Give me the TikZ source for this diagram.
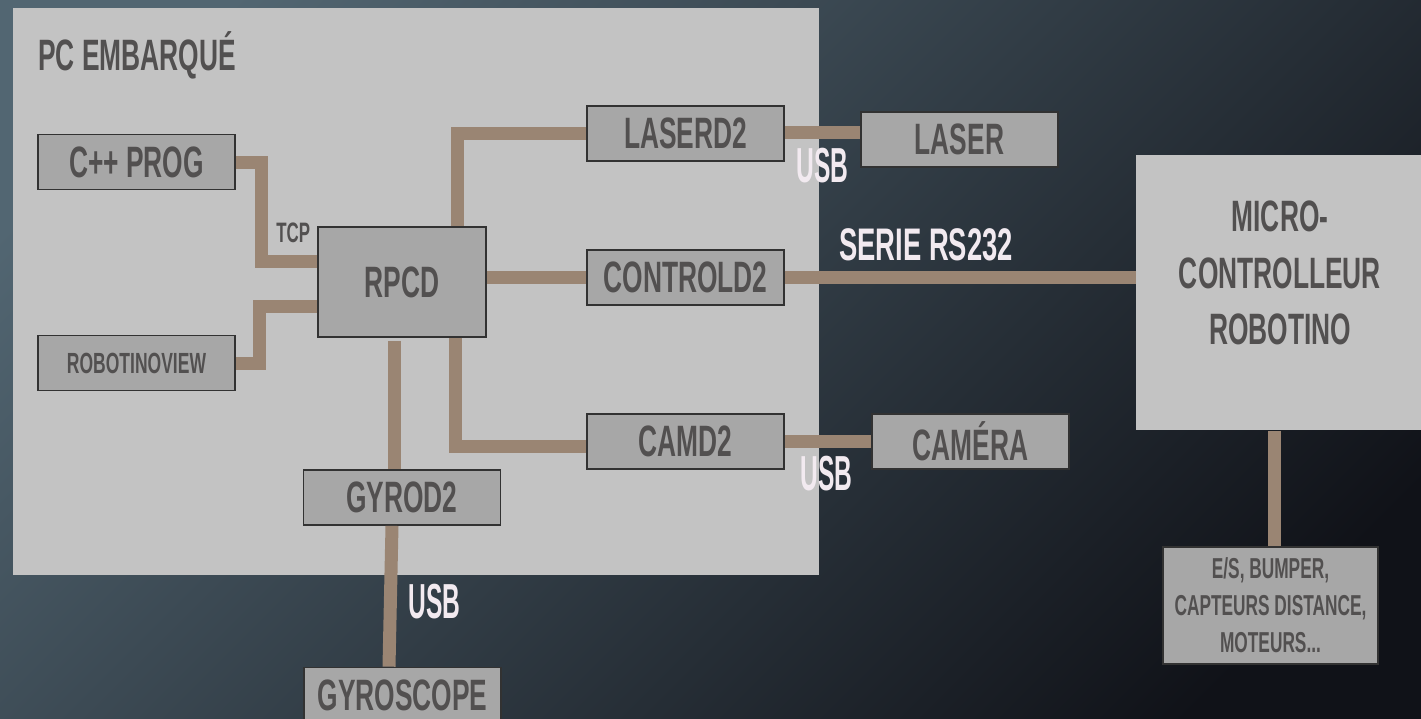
\documentclass[tikz,border=0pt]{standalone}
\usepackage{fontspec}
\setmainfont{Liberation Sans}[FakeStretch=0.6]
\newfontfamily\usbfont{Liberation Sans}[FakeStretch=0.5]
\usepackage{tikz}
\usetikzlibrary{positioning, calc}
\definecolor{bgtop}{RGB}{82,102,114}
\definecolor{bgbot}{RGB}{16,18,24}
\definecolor{panelgrey}{RGB}{195,195,195}
\definecolor{boxgrey}{RGB}{167,167,167}
\definecolor{boxframe}{RGB}{50,50,50}
\definecolor{boxtext}{RGB}{82,80,80}
\definecolor{linkbrown}{RGB}{154,133,115}
\definecolor{lbltext}{RGB}{242,234,240}
\tikzset{
  panel/.style={rectangle, fill=panelgrey, inner sep=0pt, anchor=north west},
  box/.style={rectangle, draw=boxframe, fill=boxgrey,
    minimum width=3.94cm, minimum height=1.1cm, inner sep=0pt,
    line width=1pt, text=boxtext, font=\fontsize{25}{30}\selectfont\bfseries},
  smallbox/.style={box, font=\fontsize{16.6}{20}\selectfont\bfseries},
  notebox/.style={box, align=center, minimum width=4.3cm, minimum height=2.34cm,
    font=\fontsize{16.4}{21}\selectfont\bfseries},
  title/.style={inner sep=0pt, anchor=base west, text=boxtext,
    font=\fontsize{25}{30}\selectfont\bfseries},
  bigtext/.style={inner sep=0pt, align=center, text=boxtext,
    font=\fontsize{25}{32}\selectfont\bfseries},
  tcplbl/.style={inner sep=0pt, anchor=base west, text=boxtext,
    font=\fontsize{16}{20}\selectfont\bfseries},
  usblbl/.style={inner sep=0pt, anchor=base west, text=lbltext,
    font=\usbfont\fontsize{28}{30}\selectfont\bfseries},
  seriallbl/.style={inner sep=0pt, anchor=base west, text=lbltext,
    font=\fontsize{26}{30}\selectfont\bfseries},
  link/.style={line width=0.26cm, color=linkbrown}
}

\begin{document}
\begin{tikzpicture}[x=0.02cm, y=-0.02cm]
  \useasboundingbox (0,0) rectangle (1421,718);
  % background
  \shade[top color=bgtop, bottom color=bgbot, shading angle=45] (-60,-60) rectangle (1481,778);

  % panels
  \node[panel, minimum width=16.12cm, minimum height=11.34cm] (pc) at (13,8) {};
  \node[panel, minimum width=5.8cm, minimum height=5.5cm] (micro) at (1136,155) {};
  \node[title] (pctitle) at (38,70) {PC EMBARQUÉ};
  \node[bigtext] (microtxt) at (1280,273) {MICRO-\\CONTROLLEUR\\ROBOTINO};

  % boxes
  \node[box] (cpp) at (136.5,162) {C++ PROG};
  \node[smallbox] (rview) at (136.5,363) {ROBOTINOVIEW};
  \node[box, minimum width=3.36cm, minimum height=2.2cm] (rpcd) at (402,282) {RPCD};
  \node[box] (laserd) at (685.5,133.5) {LASERD2};
  \node[box] (controld) at (685.5,277.5) {CONTROLD2};
  \node[box] (camd) at (685.5,441.5) {CAMD2};
  \node[box] (gyrod) at (402,497.5) {GYROD2};
  \node[box] (gyro) at (402.5,695) {GYROSCOPE};
  \node[box] (laser) at (959.5,139.5) {LASER};
  \node[box] (camera) at (970.5,441.5) {CAMÉRA};
  \node[notebox] (es) at (1270.5,605.5) {E/S, BUMPER,\\CAPTEURS DISTANCE,\\MOTEURS...};

  % links
  \draw[link] (cpp.east) -- ++(26,0) |- (rpcd.west |- 0,261);
  \draw[link] (rview.east) -- ++(24,0) |- (rpcd.west |- 0,306);
  \draw[link] (rpcd.north -| 457,0) |- (laserd.west);
  \draw[link] (rpcd.east |- controld.west) -- (controld.west);
  \draw[link] (controld.east) -- (controld.east -| micro.west);
  \draw[link] (laserd.east |- 0,132) -- (laser.west |- 0,132);
  \draw[link] (rpcd.south -| 455,0) |- (camd.west |- 0,446);
  \draw[link] (camd.east) -- (camera.west);
  \draw[link] (rpcd.south -| 394,0) ++(0,3) -- (gyrod.north -| 394,0);
  \draw[link] (gyrod.south -| 392,0) -- (gyro.north -| 389,0);
  \draw[link] (micro.south -| 1274,0) -- (es.north -| 1274,0);

  % labels
  \node[tcplbl] (tcp) at (276,242) {TCP};
  \node[usblbl] (usblaser) at (796,182) {USB};
  \node[seriallbl] (serial) at (839,260) {SERIE RS232};
  \node[usblbl] (usbcam) at (800,490) {USB};
  \node[usblbl] (usbgyro) at (408,618) {USB};
\end{tikzpicture}
\end{document}
